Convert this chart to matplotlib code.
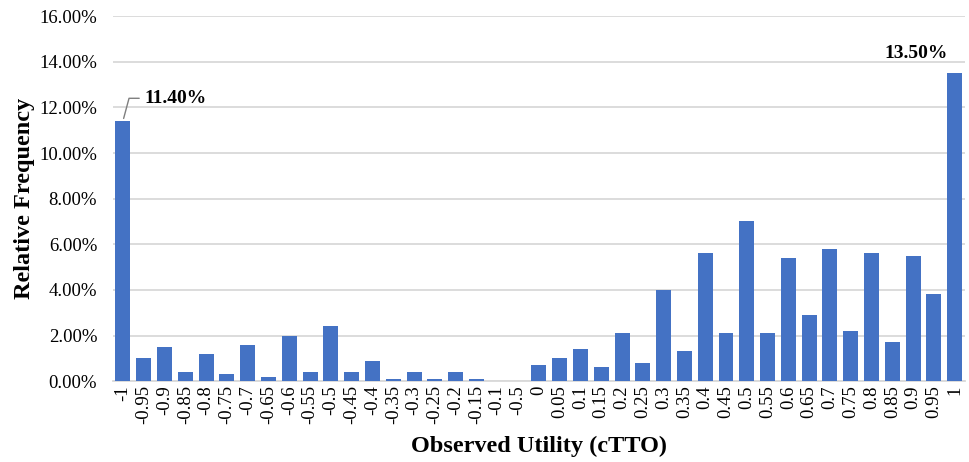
import matplotlib.pyplot as plt
from matplotlib.ticker import PercentFormatter

plt.rcParams['font.family'] = ['Liberation Serif', 'DejaVu Serif']

# categorias (o "-0.5" perto do zero vem assim do grafico original)
categorias = ['-1', '-0.95', '-0.9', '-0.85', '-0.8', '-0.75', '-0.7', '-0.65', '-0.6', '-0.55',
              '-0.5', '-0.45', '-0.4', '-0.35', '-0.3', '-0.25', '-0.2', '-0.15', '-0.1', '-0.5',
              '0', '0.05', '0.1', '0.15', '0.2', '0.25', '0.3', '0.35', '0.4', '0.45',
              '0.5', '0.55', '0.6', '0.65', '0.7', '0.75', '0.8', '0.85', '0.9', '0.95', '1']
frequencia = [11.4, 1.0, 1.5, 0.4, 1.2, 0.3, 1.6, 0.2, 2.0, 0.4,
              2.4, 0.4, 0.9, 0.1, 0.4, 0.1, 0.4, 0.1, 0.0, 0.0,
              0.7, 1.0, 1.4, 0.6, 2.1, 0.8, 4.0, 1.3, 5.6, 2.1,
              7.0, 2.1, 5.4, 2.9, 5.8, 2.2, 5.6, 1.7, 5.5, 3.8, 13.5]

fig, ax = plt.subplots(figsize=(9.7, 4.62), dpi=100)
fig.subplots_adjust(left=0.116, right=0.995, top=0.965, bottom=0.175)

x = list(range(len(categorias)))
ax.bar(x, frequencia, width=0.72, color='#4472C4', zorder=3)

ax.set_xlim(-0.5, len(categorias) - 0.5)
ax.set_ylim(0, 16)
ax.set_yticks(range(0, 17, 2))
ax.yaxis.set_major_formatter(PercentFormatter(decimals=2))
ax.grid(axis='y', color='#D9D9D9', linewidth=1.3, zorder=0)
ax.set_xticks(x)
ax.set_xticklabels(categorias, rotation=90)
ax.tick_params(axis='x', length=0, labelsize=13.5, pad=3)
ax.tick_params(axis='y', length=0, labelsize=13.5, pad=11)

for lado in ['top', 'right', 'left']:
    ax.spines[lado].set_visible(False)
ax.spines['bottom'].set_color('#D9D9D9')
ax.spines['bottom'].set_linewidth(1.3)

ax.set_xlabel('Observed Utility (cTTO)', fontsize=17.5, fontweight='bold', labelpad=8)
ax.set_ylabel('Relative Frequency', fontsize=17.5, fontweight='bold', labelpad=3)

# rotulos dos extremos
ax.annotate(f'{frequencia[0]:.2f}%', xy=(x[0], frequencia[0]), xytext=(1.05, 12.4),
            fontsize=14, fontweight='bold', va='center',
            arrowprops=dict(arrowstyle='-', color='#7F7F7F', lw=1,
                            connectionstyle='angle,angleA=0,angleB=75,rad=0'))
ax.text(x[-1] - 1.85, frequencia[-1] + 0.85, f'{frequencia[-1]:.2f}%',
        fontsize=14, fontweight='bold', ha='center', va='center')

plt.savefig('out.png')
